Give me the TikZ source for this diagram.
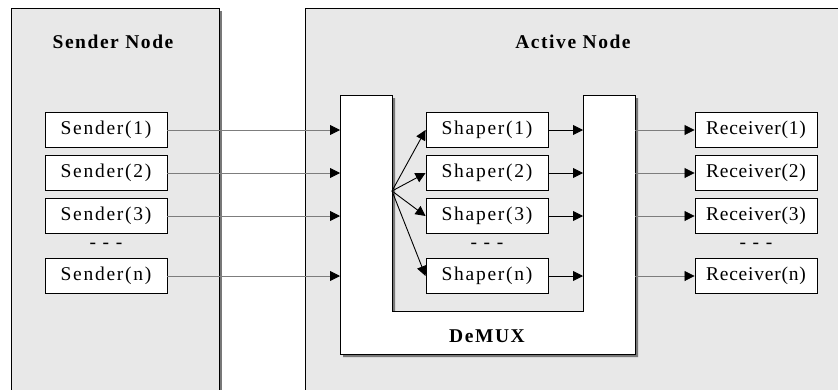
\documentclass[tikz,border=0pt]{standalone}
\usepackage{fontspec}
\setmainfont{Liberation Serif}
\newfontfamily\spacedfont[LetterSpace=8]{Liberation Serif}
\newfontfamily\boxfont[LetterSpace=9]{Liberation Serif}
\newfontfamily\tightfont[LetterSpace=4]{Liberation Serif}
\usetikzlibrary{arrows.meta}
\definecolor{panelgray}{RGB}{232,232,232}
\definecolor{shadowgray}{RGB}{120,120,120}
\definecolor{dotgray}{RGB}{125,125,125}

\begin{document}
\begin{tikzpicture}[x=1pt,y=-1pt,
  box/.style={draw=black, fill=white, line width=0.9pt, minimum width=122pt,
    minimum height=35pt, inner sep=0pt, font=\boxfont\fontsize{19.5}{19.5}\selectfont},
  rbox/.style={box, font=\tightfont\fontsize{19.5}{19.5}\selectfont},
  title/.style={font=\spacedfont\bfseries\fontsize{19.5}{19.5}\selectfont},
  ellip/.style={font=\boxfont\fontsize{19.5}{19.5}\selectfont},
  tip/.style={-{Triangle[length=10pt,width=10pt,color=black]}},
  solidarrow/.style={tip, draw=black, line width=0.9pt},
  dotarrow/.style={tip, draw=dotgray, line width=0.8pt, dash pattern=on 0.5pt off 0.5pt},
  panel/.style={fill=panelgray, draw=black, line width=0.9pt},
  shadow/.style={fill=shadowgray, draw=none}
]
\useasboundingbox (0,0) rectangle (838,389);
\clip (0,0) rectangle (838,389);

% panels
\fill[shadow] (14,11) rectangle (222,400);
\draw[panel] (11,8) rectangle (219,400);
\draw[panel] (305,8) rectangle (860,400);

\node[title] (tsend) at (113,42) {Sender Node};
\node[title] (tact) at (573,42) {Active Node};

% DeMUX U-shape
\fill[shadow] (343,98) -- (395,98) -- (395,314) -- (586,314) -- (586,98)
  -- (638,98) -- (638,357) -- (343,357) -- cycle;
\draw[fill=white, line width=0.9pt] (340,95) -- (392,95) -- (392,311) -- (583,311)
  -- (583,95) -- (635,95) -- (635,354) -- (340,354) -- cycle;
\node[title] (dmx) at (487,336) {DeMUX};

% boxes
\foreach \i/\y in {1/130,2/173,3/216,n/276} {
  \node[box] (s\i) at (106,\y) {Sender(\i)};
  \node[box] (sh\i) at (487,\y) {Shaper(\i)};
  \node[rbox] (r\i) at (756,\y) {Receiver(\i)};
  \coordinate (din\i) at (340,\y);
  \coordinate (min\i) at (583,\y);
  \coordinate (mout\i) at (635,\y);
}
\node[ellip] (e1) at (106,246) {- - -};
\node[ellip] (e2) at (487,246) {- - -};
\node[ellip] (e3) at (756,246) {- - -};

\coordinate (fan) at (392,191);

% connectors
\foreach \i in {1,2,3,n} {
  \draw[dotarrow] (s\i.east) -- (din\i);
  \draw[solidarrow] (fan) -- (sh\i.west);
  \draw[solidarrow] (sh\i.east) -- (min\i);
  \draw[dotarrow] (mout\i) -- (r\i.west);
}
\end{tikzpicture}
\end{document}
